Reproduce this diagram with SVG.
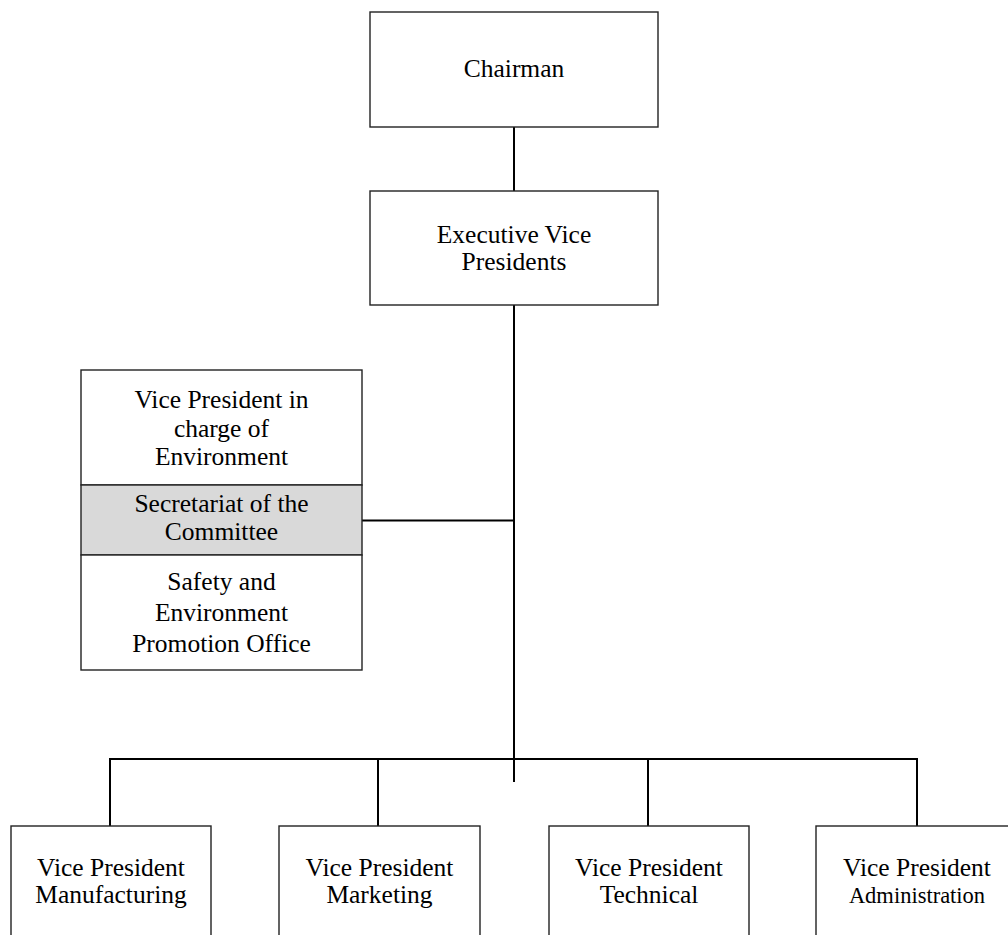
<svg xmlns="http://www.w3.org/2000/svg" width="1008" height="935" viewBox="0 0 1008 935">
<style>
.box{fill:#fff;stroke:#222;stroke-width:1.4}
.gray{fill:#d9d9d9;stroke:#222;stroke-width:1.4}
.conn{fill:none;stroke:#000;stroke-width:2}
text{font-family:"Liberation Serif","Times New Roman",serif;font-size:25.5px;fill:#000;text-anchor:middle}
.sm{font-size:22.5px}
</style>
<rect width="1008" height="935" fill="#fff"/>
<g id="connectors">
<line class="conn" x1="514" y1="127" x2="514" y2="191"/>
<line class="conn" x1="514" y1="305" x2="514" y2="782"/>
<line class="conn" x1="362" y1="520.5" x2="514" y2="520.5"/>
<polyline class="conn" points="110,826 110,759 917,759 917,826"/>
<line class="conn" x1="378" y1="759" x2="378" y2="826"/>
<line class="conn" x1="648" y1="759" x2="648" y2="826"/>
</g>
<g id="chairman">
<rect class="box" x="370" y="12" width="288" height="115"/>
<text x="514" y="77">Chairman</text>
</g>
<g id="evp">
<rect class="box" x="370" y="191" width="288" height="114"/>
<text x="514" y="243">Executive Vice</text>
<text x="514" y="270">Presidents</text>
</g>
<g id="vp-environment">
<rect class="box" x="81" y="370" width="281" height="115"/>
<text x="221.5" y="408">Vice President in</text>
<text x="221.5" y="437">charge of</text>
<text x="221.5" y="465">Environment</text>
</g>
<g id="secretariat">
<rect class="gray" x="81" y="485" width="281" height="70"/>
<text x="221.5" y="512">Secretariat of the</text>
<text x="221.5" y="539.5">Committee</text>
</g>
<g id="safety-office">
<rect class="box" x="81" y="555" width="281" height="115"/>
<text x="221.5" y="590">Safety and</text>
<text x="221.5" y="621">Environment</text>
<text x="221.5" y="652">Promotion Office</text>
</g>
<g id="vp-manufacturing">
<rect class="box" x="11" y="826" width="200" height="120"/>
<text x="111" y="876">Vice President</text>
<text x="111" y="903">Manufacturing</text>
</g>
<g id="vp-marketing">
<rect class="box" x="279" y="826" width="201" height="120"/>
<text x="379.5" y="876">Vice President</text>
<text x="379.5" y="903">Marketing</text>
</g>
<g id="vp-technical">
<rect class="box" x="549" y="826" width="200" height="120"/>
<text x="649" y="876">Vice President</text>
<text x="649" y="903">Technical</text>
</g>
<g id="vp-administration">
<rect class="box" x="816" y="826" width="201" height="120"/>
<text x="917" y="876">Vice President</text>
<text class="sm" x="917" y="903">Administration</text>
</g>
</svg>
